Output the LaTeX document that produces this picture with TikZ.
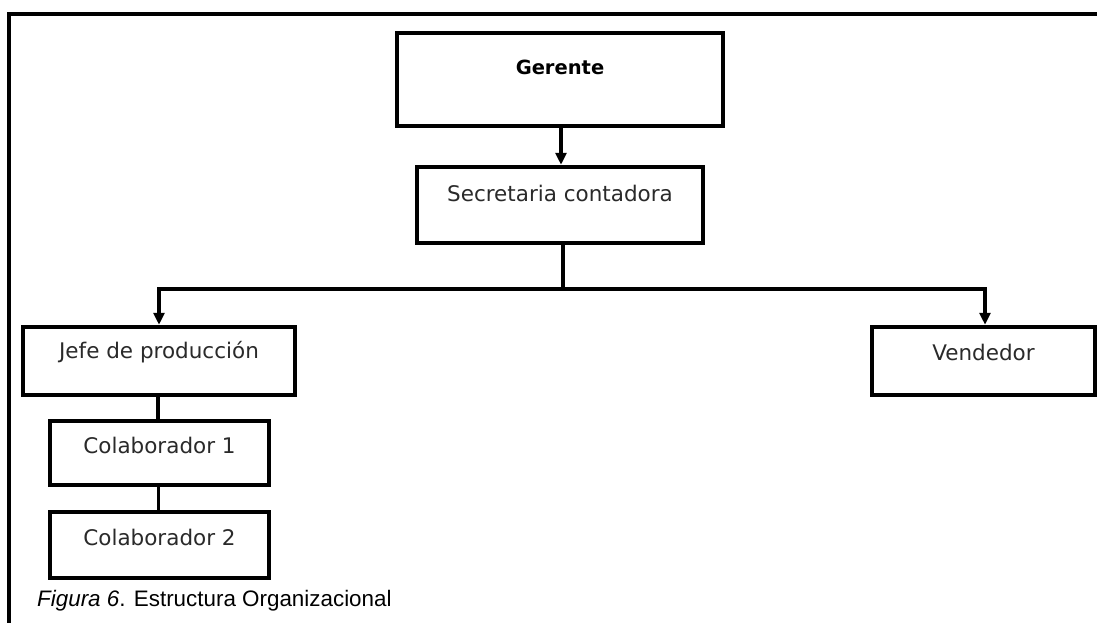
\documentclass[tikz,border=0pt]{standalone}
\usepackage{fontspec}
\setmainfont{DejaVu Sans}
\newfontfamily\capfont{Liberation Sans}
\usetikzlibrary{arrows.meta}
\definecolor{boxtext}{HTML}{2A2A2A}
\tikzset{
  orgbox/.style={draw=black, line width=4.5pt, rectangle, inner sep=0pt, fill=white},
  orglabel/.style={font=\fontsize{21.5}{24}\selectfont, text=boxtext, inner sep=0pt},
  link/.style={draw=black, line width=3.5pt},
  arrowlink/.style={link, -{Triangle[width=11pt,length=12pt]}},
  frameline/.style={draw=black, line width=3.5pt}
}
\begin{document}
\begin{tikzpicture}[x=1pt,y=-1pt]
\useasboundingbox (0,0) rectangle (1097,623);
\fill[white] (0,0) rectangle (1097,623);
\draw[frameline] (9,640) -- (9,14) -- (1110,14);

\node[orgbox, minimum width=326pt, minimum height=93pt] (ger) at (560,79.5) {};
\node[orgbox, minimum width=286pt, minimum height=76pt] (sec) at (560,205) {};
\node[orgbox, minimum width=272pt, minimum height=68pt] (jefe) at (159,361) {};
\node[orgbox, minimum width=219pt, minimum height=64pt] (c1) at (159.5,453) {};
\node[orgbox, minimum width=219pt, minimum height=66pt] (c2) at (159.5,545) {};
\node[orgbox, minimum width=223pt, minimum height=68pt] (vend) at (983.5,361) {};

\node[orglabel, text=black, font=\fontsize{19.5}{22}\selectfont\bfseries] (gert) at ([yshift=-37pt]ger.north) {Gerente};
\node[orglabel] (sect) at ([yshift=-28.5pt]sec.north) {Secretaria contadora};
\node[orglabel] (jefet) at ([yshift=-27.5pt]jefe.north) {Jefe de producción};
\node[orglabel] (c1t) at ([yshift=-26.5pt]c1.north) {Colaborador 1};
\node[orglabel] (c2t) at ([yshift=-27.5pt]c2.north) {Colaborador 2};
\node[orglabel] (vendt) at ([yshift=-27.5pt]vend.north) {Vendedor};

\coordinate (hub) at (563,289);
\draw[arrowlink] ([xshift=1pt]ger.south) -- ([xshift=1pt]sec.north);
\draw[link] ([xshift=3pt]sec.south) -- ([xshift=3pt]sec.south |- hub);
\draw[arrowlink] ([xshift=3pt]sec.south |- hub) -| (jefe.north);
\draw[arrowlink] ([xshift=3pt]sec.south |- hub) -| ([xshift=1.5pt]vend.north);
\draw[link] ([xshift=-1pt]jefe.south) -- ([xshift=-1pt]jefe.south |- c1.north);
\draw[link] ([xshift=-1pt]c1.south) -- ([xshift=-1pt]c1.south |- c2.north);

\node[anchor=base west, inner sep=0pt, font=\capfont\fontsize{22.4}{25}\selectfont] (cap) at (37,606) {\textit{Figura 6}. Estructura Organizacional};
\end{tikzpicture}
\end{document}
